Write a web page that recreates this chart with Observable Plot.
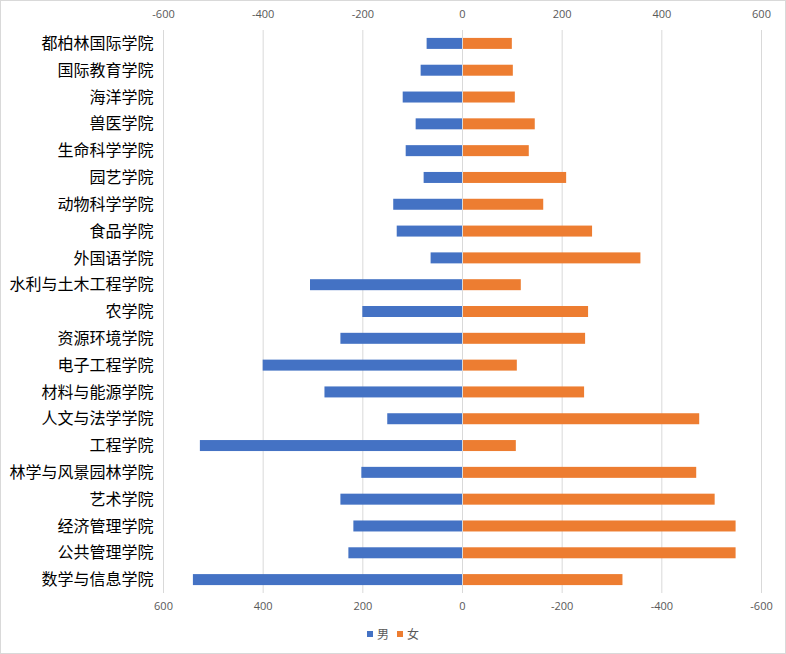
<!DOCTYPE html>
<html>
<head>
<meta charset="utf-8">
<script src="https://cdn.jsdelivr.net/npm/d3@7"></script>
<script src="https://cdn.jsdelivr.net/npm/@observablehq/plot@0.6"></script>
<style>
  body { margin: 0; background: #fff; }
  #wrap { position: relative; width: 786px; height: 654px; box-sizing: border-box; border: 1px solid #d9d9d9; overflow: hidden; background: #fff; font-family: "Noto Sans CJK SC", sans-serif; }
  #wrap svg { display: block; }
  #legend { position: absolute; left: 0; width: 100%; top: 624px; display: flex; justify-content: center; align-items: center; font-size: 12px; color: #595959; line-height: 18px; }
  #legend .item { display: flex; align-items: center; margin: 0 4px; }
  #legend .sw { display: inline-block; width: 6px; height: 6px; margin-right: 4px; }
</style>
</head>
<body>
<div id="wrap"></div>
<script>
const categories = ["都柏林国际学院","国际教育学院","海洋学院","兽医学院","生命科学学院","园艺学院","动物科学学院","食品学院","外国语学院","水利与土木工程学院","农学院","资源环境学院","电子工程学院","材料与能源学院","人文与法学学院","工程学院","林学与风景园林学院","艺术学院","经济管理学院","公共管理学院","数学与信息学院"];
const male   = [71, 83, 119, 93, 113, 77, 138, 131, 63, 305, 200, 244, 400, 276, 150, 526, 202, 244, 218, 228, 540];
const female = [100, 102, 106, 146, 134, 209, 163, 261, 358, 118, 253, 247, 110, 245, 476, 108, 470, 507, 549, 549, 322];
const seriesNames = ["男", "女"];
const seriesColors = ["#4472c4", "#ed7d31"];
const xTicks = [-600, -400, -200, 0, 200, 400, 600];

const data = [];
categories.forEach((c, i) => {
  data.push({cat: c, sex: seriesNames[0], value: -male[i]});
  data.push({cat: c, sex: seriesNames[1], value: female[i]});
});

const chart = Plot.plot({
  width: 784,
  height: 620,
  marginLeft: 162,
  marginRight: 24,
  marginTop: 29,
  marginBottom: 28,
  style: { fontFamily: "'Noto Sans CJK SC', sans-serif", background: "#fff" },
  x: { domain: [-600, 600] },
  y: { domain: categories, paddingInner: 0.59, paddingOuter: 0.295, round: false },
  color: { domain: seriesNames, range: seriesColors },
  marks: [
    Plot.ruleX(xTicks, { stroke: "#d9d9d9", strokeWidth: 1, strokeOpacity: 1 }),
    Plot.barX(data, { x1: 0, x2: "value", y: "cat", fill: "sex" }),
    Plot.ruleX([0], { stroke: "#d9d9d9", strokeWidth: 1, strokeOpacity: 1 }),
    Plot.axisX(xTicks, { anchor: "top", tickSize: 0, tickPadding: 13, tickFormat: d => String(d), fill: "#595959", fontSize: 11, fontFamily: "'Open Sans', sans-serif", label: null }),
    Plot.axisX(xTicks, { anchor: "bottom", tickSize: 0, tickPadding: 9, tickFormat: d => String(-d), fill: "#595959", fontSize: 11, fontFamily: "'Open Sans', sans-serif", label: null }),
    Plot.axisY({ tickSize: 0, tickPadding: 10, fontSize: 16, fill: "#000", label: null })
  ]
});

const wrap = document.getElementById("wrap");
wrap.appendChild(chart);

const legend = document.createElement("div");
legend.id = "legend";
seriesNames.forEach((name, i) => {
  const item = document.createElement("span");
  item.className = "item";
  const sw = document.createElement("span");
  sw.className = "sw";
  sw.style.background = seriesColors[i];
  item.appendChild(sw);
  item.appendChild(document.createTextNode(name));
  legend.appendChild(item);
});
wrap.appendChild(legend);
</script>
</body>
</html>
